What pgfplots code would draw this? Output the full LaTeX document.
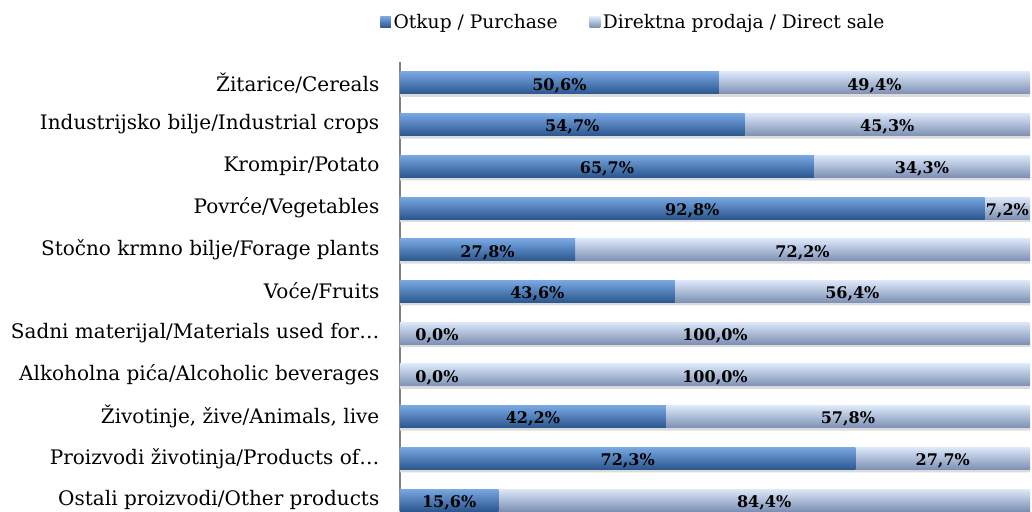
\documentclass[border=0pt]{standalone}
\usepackage{pgfplots}
\usepackage{pgfplotstable}
\pgfplotsset{compat=1.18}
\usepackage{fontspec}
\setmainfont{DejaVu Serif}
\definecolor{pA}{HTML}{4577B8}
\definecolor{pAtop}{HTML}{78A7E2}
\definecolor{pAbot}{HTML}{2B568E}
\definecolor{pB}{HTML}{A8BFE3}
\definecolor{pBtop}{HTML}{DCE8F9}
\definecolor{pBbot}{HTML}{7D90B4}
\pgfplotstableread{
i a b
0 50.6 49.4
1 54.7 45.3
2 65.7 34.3
3 92.8 7.2
4 27.8 72.2
5 43.6 56.4
6 0.0 100.0
7 0.0 100.0
8 42.2 57.8
9 72.3 27.7
10 15.6 84.4
}\data
\pgfplotsset{
  sA/.style={xbar, bar shift=0pt, forget plot, draw=none, top color=pAtop, middle color=pA, bottom color=pAbot},
  sB/.style={xbar, bar shift=0pt, forget plot, draw=none, top color=pBtop, middle color=pB, bottom color=pBbot},
  lab/.style={only marks, mark=none, forget plot, nodes near coords={\bfseries\pgfmathprintnumber[fixed,fixed zerofill,precision=1,use comma,assume math mode=true]{\pgfplotspointmeta}\%},
    every node near coord/.append style={font=\fontsize{12}{14}\selectfont, anchor=center, text=black, yshift=-2pt}},
}
\newcommand\dbar[1]{\addplot[sB, restrict y to domain=#1:#1] table[x expr=\thisrow{a}+\thisrow{b}, y=i]{\data};}
\newcommand\pbar[1]{\addplot[sA, restrict y to domain=#1:#1] table[x=a, y=i]{\data};}
\begin{document}
\begin{tikzpicture}
\path[use as bounding box] (0,0) rectangle (774pt,383.25pt);
\begin{axis}[
  at={(300pt,0pt)}, anchor=south west,
  scale only axis, width=472.5pt, height=336.75pt,
  bar width=16.5pt,
  xmin=0, xmax=100,
  ymin=-0.5, ymax=10.26, y dir=reverse,
  clip=false,
  ytick={0,...,10},
  yticklabels={Žitarice/Cereals, Industrijsko bilje/Industrial crops, Krompir/Potato, Povrće/Vegetables, Stočno krmno bilje/Forage plants, Voće/Fruits, Sadni materijal/Materials used for…, Alkoholna pića/Alcoholic beverages, {Životinje, žive/Animals, live}, Proizvodi životinja/Products of…, Ostali proizvodi/Other products},
  hide x axis,
  axis y line*=left,
  y axis line style={draw=gray, line width=0.8pt, -},
  major tick length=0pt,
  yticklabel style={font=\fontsize{15}{18}\selectfont, xshift=-12pt},
  legend style={at={(0.371,1.089)}, anchor=center, draw=none, legend columns=2, font=\fontsize{14}{17}\selectfont, /tikz/every even column/.append style={column sep=22pt}},
  legend image code/.code={\fill[#1] (0pt,-4pt) rectangle (8pt,4pt);},
  legend cell align=left,
]
\addlegendimage{draw=none, top color=pAtop, middle color=pA, bottom color=pAbot}
\addlegendentry{Otkup / Purchase}
\addlegendimage{draw=none, top color=pBtop, middle color=pB, bottom color=pBbot}
\addlegendentry{Direktna prodaja / Direct sale}
\addplot[xbar, bar shift=-2.2pt, forget plot, draw=none, fill=black!14] table[x expr=\thisrow{a}+\thisrow{b}, y=i]{\data};
\dbar{0}\dbar{1}\dbar{2}\dbar{3}\dbar{4}\dbar{5}\dbar{6}\dbar{7}\dbar{8}\dbar{9}\dbar{10}
\pbar{0}\pbar{1}\pbar{2}\pbar{3}\pbar{4}\pbar{5}\pbar{8}\pbar{9}\pbar{10}
\addplot[lab, point meta=\thisrow{a}] table[x expr={max(\thisrow{a}/2,5.87)}, y=i]{\data};
\addplot[lab, point meta=\thisrow{b}] table[x expr={\thisrow{a}+\thisrow{b}/2}, y=i]{\data};
\end{axis}
\end{tikzpicture}
\end{document}
